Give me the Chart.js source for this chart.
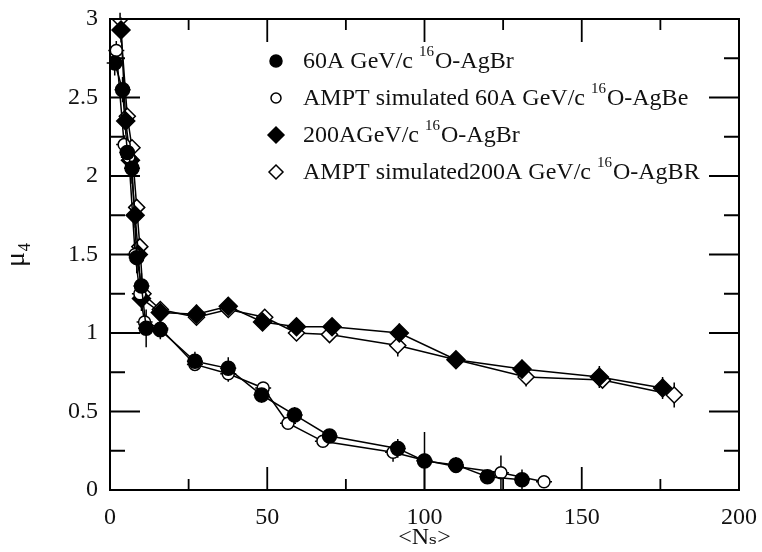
<!DOCTYPE html>
<html lang="en">
<head>
  <meta charset="UTF-8">
  <title>mu4 vs Ns</title>
  <script src="https://cdn.jsdelivr.net/npm/chart.js"></script>
  <style>
    html, body { margin: 0; padding: 0; background: #fff; }
    #wrap { width: 762px; height: 552px; }
  </style>
</head>
<body>
  <div id="wrap"><canvas id="graphCanvas"></canvas></div>
  <script>
    // 60A GeV/c 16O-AgBr (experiment)
    const n60 = [1.5, 4, 5.5, 7, 8.5, 10, 11.5, 16, 27, 37.6, 48.2, 58.7, 69.8, 91.5, 100, 110, 120, 131];
    const mu60 = [2.72, 2.55, 2.15, 2.05, 1.48, 1.3, 1.03, 1.02, 0.82, 0.775, 0.605, 0.478, 0.344, 0.265, 0.185, 0.16, 0.085, 0.065];
    const err60 = [0.08, 0.08, 0.1, 0.1, 0.1, 0.08, 0.12, 0.06, 0.06, 0.07, 0.05, 0.05, 0.04, 0.06, 0.185, 0.05, 0.04, 0.065];

    // AMPT simulated 60A
    const n60Sim = [2, 4.5, 6, 8, 9.5, 11, 16, 27, 37.6, 48.7, 56.6, 67.7, 90, 100, 110, 124.3, 138];
    const mu60Sim = [2.8, 2.2, 2.12, 1.5, 1.25, 1.07, 1.03, 0.8, 0.74, 0.65, 0.425, 0.31, 0.24, 0.19, 0.15, 0.11, 0.053];
    const err60Sim = [0.06, 0.06, 0.06, 0.06, 0.05, 0.05, 0.04, 0.04, 0.05, 0.03, 0.03, 0.03, 0.06, 0.04, 0.03, 0.11, 0.03];

    // 200A GeV/c 16O-AgBr (experiment)
    const n200 = [3.5, 5, 6.5, 8, 9, 10, 16, 27.5, 37.6, 48.5, 59.3, 70.6, 92, 110, 131, 155.6, 175.7];
    const mu200 = [2.93, 2.35, 2.1, 1.75, 1.5, 1.22, 1.13, 1.12, 1.17, 1.07, 1.04, 1.04, 1.0, 0.83, 0.77, 0.72, 0.65];
    const err200 = [0.08, 0.08, 0.1, 0.08, 0.1, 0.08, 0.06, 0.06, 0.06, 0.04, 0.05, 0.05, 0.06, 0.04, 0.06, 0.07, 0.07];

    // AMPT simulated 200A
    const n200Sim = [3.2, 5.5, 7, 8.5, 9.5, 10.5, 16, 27.5, 37.6, 49.2, 59.3, 69.8, 91.5, 110, 132.3, 156.6, 179.4];
    const mu200Sim = [3.0, 2.38, 2.18, 1.8, 1.55, 1.25, 1.15, 1.1, 1.15, 1.1, 1.0, 0.99, 0.92, 0.83, 0.72, 0.70, 0.605];
    const err200Sim = [0.04, 0.05, 0.05, 0.05, 0.05, 0.05, 0.04, 0.04, 0.04, 0.03, 0.04, 0.04, 0.07, 0.03, 0.06, 0.05, 0.08];

    // legend text pieces: before superscript, superscript, after
    const legendParts = [
      ['60A GeV/c ', '16', 'O-AgBr'],
      ['AMPT simulated 60A GeV/c ', '16', 'O-AgBe'],
      ['200AGeV/c ', '16', 'O-AgBr'],
      ['AMPT simulated200A GeV/c ', '16', 'O-AgBR']
    ];

    const serif = "'Liberation Serif', 'DejaVu Serif', serif";

    function toPoints(xs, ys, es) {
      return xs.map((x, i) => ({ x: x, y: ys[i], e: es[i] }));
    }

    // error bars (vertical from data, small fixed horizontal arms)
    const errorBars = {
      id: 'errorBars',
      beforeDatasetsDraw(chart) {
        const ctx = chart.ctx;
        const xs = chart.scales.x, ys = chart.scales.y;
        ctx.save();
        ctx.strokeStyle = '#000';
        ctx.lineWidth = 1.5;
        chart.data.datasets.forEach(ds => {
          ds.data.forEach(p => {
            const px = xs.getPixelForValue(p.x);
            const top = ys.getPixelForValue(p.y + p.e);
            const bot = ys.getPixelForValue(Math.max(0, p.y - p.e));
            const py = ys.getPixelForValue(p.y);
            ctx.beginPath();
            ctx.moveTo(px, top); ctx.lineTo(px, bot);
            ctx.moveTo(px - 8, py); ctx.lineTo(px + 8, py);
            ctx.stroke();
          });
        });
        ctx.restore();
      }
    };

    // frame with inward ticks on all four sides
    const frame = {
      id: 'frame',
      afterDraw(chart) {
        const ctx = chart.ctx;
        const a = chart.chartArea;
        const xs = chart.scales.x, ys = chart.scales.y;
        ctx.save();
        ctx.strokeStyle = '#000';
        ctx.lineWidth = 2;
        ctx.strokeRect(a.left, a.top, a.right - a.left, a.bottom - a.top);
        ctx.lineWidth = 1.8;
        ctx.beginPath();
        for (let v = 0; v <= 200; v += 25) {
          const px = xs.getPixelForValue(v);
          const len = v % 50 === 0 ? 23 : 11;
          ctx.moveTo(px, a.bottom); ctx.lineTo(px, a.bottom - len);
          ctx.moveTo(px, a.top); ctx.lineTo(px, a.top + len);
        }
        for (let k = 0; k <= 12; k++) {
          const v = k * 0.25;
          const py = ys.getPixelForValue(v);
          const len = k % 2 === 0 ? 30 : 15;
          ctx.moveTo(a.left, py); ctx.lineTo(a.left + len, py);
          ctx.moveTo(a.right, py); ctx.lineTo(a.right - len, py);
        }
        ctx.stroke();
        ctx.restore();
      }
    };

    // legend drawn inside the plot
    const innerLegend = {
      id: 'innerLegend',
      afterDraw(chart) {
        const ctx = chart.ctx;
        const a = chart.chartArea;
        const x0 = a.left + 166, y0 = a.top + 42, step = 37;
        ctx.save();
        ctx.textBaseline = 'middle';
        chart.data.datasets.forEach((ds, i) => {
          const y = y0 + i * step;
          ctx.fillStyle = ds.pointBackgroundColor;
          ctx.strokeStyle = '#000';
          ctx.lineWidth = 1.5;
          Chart.helpers.drawPoint(ctx, {
            pointStyle: ds.pointStyle, radius: ds.pointRadius - 1,
            rotation: 0, borderWidth: 1.5
          }, x0, y);
          const parts = legendParts[i];
          let tx = x0 + 27;
          ctx.fillStyle = '#111';
          ctx.font = '24px ' + serif;
          ctx.fillText(parts[0], tx, y + 1);
          tx += ctx.measureText(parts[0]).width;
          ctx.font = '15px ' + serif;
          ctx.fillText(parts[1], tx, y - 9);
          tx += ctx.measureText(parts[1]).width + 1;
          ctx.font = '24px ' + serif;
          ctx.fillText(parts[2], tx, y + 1);
        });
        ctx.restore();
      }
    };

    const ctx = document.getElementById('graphCanvas').getContext('2d');
    const chart = new Chart(ctx, {
      type: 'scatter',
      data: {
        datasets: [
          {
            label: '60A GeV/c 16O-AgBr',
            data: toPoints(n60, mu60, err60),
            showLine: true, borderColor: '#000', borderWidth: 1.5,
            pointStyle: 'circle', pointRadius: 7,
            pointBackgroundColor: '#000', pointBorderColor: '#000'
          },
          {
            label: 'AMPT simulated 60A GeV/c 16O-AgBe',
            data: toPoints(n60Sim, mu60Sim, err60Sim),
            showLine: true, borderColor: '#000', borderWidth: 1.5,
            pointStyle: 'circle', pointRadius: 6, pointBorderWidth: 1.5,
            pointBackgroundColor: '#fff', pointBorderColor: '#000'
          },
          {
            label: '200AGeV/c 16O-AgBr',
            data: toPoints(n200, mu200, err200),
            showLine: true, borderColor: '#000', borderWidth: 1.5,
            pointStyle: 'rectRot', pointRadius: 9,
            pointBackgroundColor: '#000', pointBorderColor: '#000'
          },
          {
            label: 'AMPT simulated200A GeV/c 16O-AgBR',
            data: toPoints(n200Sim, mu200Sim, err200Sim),
            showLine: true, borderColor: '#000', borderWidth: 1.5,
            pointStyle: 'rectRot', pointRadius: 8, pointBorderWidth: 1.5,
            pointBackgroundColor: '#fff', pointBorderColor: '#000'
          }
        ]
      },
      options: {
        responsive: true,
        maintainAspectRatio: false,
        animation: false,
        layout: { padding: { left: 0, right: 22, top: 19, bottom: 0 } },
        scales: {
          x: {
            type: 'linear',
            min: 0, max: 200,
            grid: { display: false },
            border: { display: false },
            ticks: { stepSize: 50, color: '#111', padding: 5, font: { family: serif, size: 24 } },
            title: { display: true, text: '<Nₛ>', color: '#111', padding: 0, font: { family: serif, size: 24 } },
            afterFit: (s) => { s.height = 62; }
          },
          y: {
            min: 0, max: 3,
            grid: { display: false },
            border: { display: false },
            ticks: {
              stepSize: 0.5, color: '#111', padding: 4, font: { family: serif, size: 24 },
              callback: (v) => String(v)
            },
            title: { display: true, text: 'μ₄', color: '#111', padding: 0, font: { family: serif, size: 28 } },
            afterFit: (s) => { s.width = 110; }
          }
        },
        plugins: {
          legend: { display: false },
          tooltip: { enabled: false }
        }
      },
      plugins: [errorBars, frame, innerLegend]
    });
  </script>
</body>
</html>
